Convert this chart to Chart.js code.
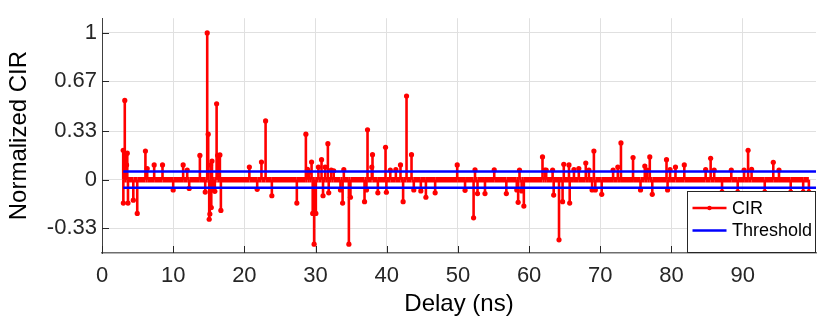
<!DOCTYPE html>
<html>
<head>
<meta charset="utf-8">
<title>CIR</title>
<script src="https://cdn.jsdelivr.net/npm/chart.js@4.4.0/dist/chart.umd.min.js"></script>
<style>
  html, body { margin: 0; padding: 0; background: #fff; }
  #wrap { width: 830px; height: 323px; }
</style>
</head>
<body>
<div id="wrap"><canvas id="cirChart" width="830" height="323"></canvas></div>
<script>
// CIR spikes: delay (ns) and normalized amplitude
const cirDelay = [
  2.98, 3.0, 3.2, 3.45, 3.55, 3.65, 4.4, 4.95, 6.1, 6.35, 7.33, 8.5, 10.0, 11.4, 11.97, 12.25,
  13.75, 14.5, 14.78, 14.92, 15.06, 15.15, 15.25, 15.35, 15.45, 15.6, 15.85, 16.1, 16.25, 16.56, 16.7,
  20.7, 21.8, 22.4, 22.98, 23.86, 27.37, 28.64, 28.87, 29.1, 29.44, 29.6, 29.8, 30.04, 30.4,
  30.84, 31.05, 31.35, 31.73, 31.85, 32.2, 32.55, 33.5, 33.8, 33.97, 34.68, 34.9,
  36.88, 37.15, 37.3, 37.9, 38.0, 38.75, 39.83, 39.95, 40.5, 41.28, 41.93, 42.3, 42.78, 43.48,
  43.8, 44.79, 45.5, 46.8, 49.9, 51.0, 52.2, 52.4, 52.75, 53.8, 55.1, 56.8, 58.27, 58.46, 58.65,
  58.95, 59.26, 61.88, 62.2, 62.4, 63.3, 63.45, 64.2, 64.7, 64.87, 65.6, 65.7, 66.3, 66.98,
  67.96, 68.4, 68.85, 69.1, 69.3, 70.2, 71.8, 72.46, 72.9, 74.6, 75.65, 76.25, 76.6, 76.95,
  77.3, 79.3, 79.45, 79.8, 80.56, 81.8, 84.8, 85.5, 86.0, 87.1, 88.4, 89.3, 90.2, 90.76,
  91.25, 93.1, 94.3, 95.1, 96.75, 98.5, 99.3
];
const cirValue = [
  0.20, -0.16, 0.54, 0.10, 0.18, -0.16, -0.14, -0.23, 0.195, 0.075, 0.10, 0.10, -0.07, 0.10, 0.065, -0.06,
  0.165, -0.085, 1.0, 0.31, -0.27, -0.235, 0.10, -0.19, 0.127, -0.07, -0.08, 0.517, 0.165, 0.168, -0.21,
  0.086, -0.066, 0.12, 0.40, -0.11, -0.16, 0.31, 0.07, 0.05, 0.12, -0.23, -0.44, -0.23, 0.086,
  0.136, -0.11, 0.086, 0.245, -0.09, 0.065, 0.06, -0.07, -0.16, 0.068, -0.44, -0.12,
  -0.15, -0.07, 0.34, 0.086, 0.17, -0.09, 0.22, -0.086, 0.065, 0.068, 0.10, -0.15, 0.57, 0.17,
  -0.07, -0.077, -0.12, -0.09, 0.10, -0.073, -0.26, 0.066, -0.095, -0.095, 0.066, -0.095, -0.07, -0.155, 0.065,
  -0.077, -0.18, 0.155, 0.065, 0.065, 0.065, -0.105, -0.41, -0.15, 0.104, 0.10, -0.16, 0.068, 0.075,
  0.113, 0.065, -0.07, 0.195, -0.07, -0.10, 0.065, 0.086, 0.25, 0.15, -0.07, 0.093, 0.065, 0.155,
  -0.10, 0.136, -0.07, 0.068, 0.086, 0.10, 0.068, 0.145, 0.065, -0.085, 0.065, -0.085, 0.065, 0.20,
  0.07, -0.085, 0.118, 0.065, -0.085, -0.085, -0.085
];

// detection threshold (+/-) over the delay window
const thresholdDelay = [2.98, 100.3];
const thresholdUpper = [0.055, 0.055];
const thresholdLower = [-0.055, -0.055];

const xTicks = [0, 10, 20, 30, 40, 50, 60, 70, 80, 90];
const yTicks = [-0.33, 0, 0.33, 0.67, 1];
const yTickLabels = ['-0.33', '0', '0.33', '0.67', '1'];

const FONT = '"Liberation Sans", Arial, Helvetica, sans-serif';
const TEXT = '#262626';

// each spike goes 0 -> value -> 0 so the stems share the zero baseline
const cirPoints = [];
cirDelay.forEach((d, i) => {
  cirPoints.push({ x: d, y: 0 }, { x: d, y: cirValue[i] }, { x: d, y: 0 });
});

const toXY = (xs, ys) => xs.map((x, i) => ({ x: x, y: ys[i] }));

// MATLAB-style inward tick marks
const innerTicks = {
  id: 'innerTicks',
  afterDatasetsDraw(chart) {
    const { ctx, chartArea, scales } = chart;
    ctx.save();
    ctx.strokeStyle = TEXT;
    ctx.lineWidth = 1;
    ctx.beginPath();
    xTicks.forEach(v => {
      const px = Math.round(scales.x.getPixelForValue(v)) + 0.5;
      ctx.moveTo(px, chartArea.bottom);
      ctx.lineTo(px, chartArea.bottom - 7);
    });
    yTicks.forEach(v => {
      const py = Math.round(scales.y.getPixelForValue(v)) + 0.5;
      ctx.moveTo(chartArea.left, py);
      ctx.lineTo(chartArea.left + 7, py);
    });
    ctx.stroke();
    ctx.restore();
  }
};

// boxed legend in the lower right corner of the axes
const legendBox = {
  id: 'legendBox',
  afterDraw(chart) {
    const { ctx, chartArea } = chart;
    const w = 129, h = 62;
    const x = chartArea.right - w, y = chartArea.bottom - h;
    ctx.save();
    ctx.fillStyle = '#fff';
    ctx.fillRect(x, y, w, h);
    ctx.strokeStyle = TEXT;
    ctx.lineWidth = 1;
    ctx.strokeRect(Math.round(x) + 0.5, Math.round(y) + 0.5, w - 1, h - 1);

    const items = chart.data.datasets.filter(ds => ds.label);
    items.forEach((ds, i) => {
      const cy = y + 17 + i * 22.5;
      ctx.strokeStyle = ds.borderColor;
      ctx.lineWidth = 2.5;
      ctx.beginPath();
      ctx.moveTo(x + 5.5, cy);
      ctx.lineTo(x + 39.5, cy);
      ctx.stroke();
      if (ds.legendMarker) {
        ctx.fillStyle = ds.borderColor;
        ctx.beginPath();
        ctx.arc(x + 22.5, cy, 2.2, 0, Math.PI * 2);
        ctx.fill();
      }
      ctx.fillStyle = '#000';
      ctx.font = '18px ' + FONT;
      ctx.textBaseline = 'middle';
      ctx.textAlign = 'left';
      ctx.fillText(ds.label, x + 45, cy + 1);
    });
    ctx.restore();
  }
};

document.addEventListener('DOMContentLoaded', () => {
  const ctx = document.getElementById('cirChart').getContext('2d');
  new Chart(ctx, {
    type: 'line',
    data: {
      datasets: [
        {
          label: 'CIR',
          legendMarker: true,
          data: cirPoints,
          borderColor: '#ff0000',
          backgroundColor: '#ff0000',
          borderWidth: 2.6,
          borderJoinStyle: 'round',
          pointRadius: c => (c.raw && c.raw.y !== 0 ? 2.6 : 0),
          pointBorderWidth: 0,
          pointHoverRadius: 0,
          segment: {
            borderWidth: c => (c.p0.parsed.y === 0 && c.p1.parsed.y === 0 ? 5.5 : 2.6)
          },
          tension: 0,
          order: 2
        },
        {
          label: 'Threshold',
          data: toXY(thresholdDelay, thresholdUpper),
          borderColor: '#0000ff',
          borderWidth: 2.5,
          pointRadius: 0,
          order: 1
        },
        {
          label: '',
          data: toXY(thresholdDelay, thresholdLower),
          borderColor: '#0000ff',
          borderWidth: 2.5,
          pointRadius: 0,
          order: 1
        }
      ]
    },
    options: {
      responsive: false,
      animation: false,
      devicePixelRatio: 1,
      layout: { padding: { left: 0, right: 14, top: 17.5, bottom: 0 } },
      plugins: {
        legend: { display: false },
        tooltip: { enabled: false }
      },
      events: [],
      scales: {
        x: {
          type: 'linear',
          min: 0,
          max: 100.3,
          afterBuildTicks: s => { s.ticks = xTicks.map(v => ({ value: v })); },
          afterFit: s => { s.height = 70; },
          grid: { color: '#e0e0e0', lineWidth: 1, drawTicks: false },
          border: { display: true, color: '#6e6e6e', width: 1.5 },
          ticks: {
            color: TEXT,
            font: { family: FONT, size: 22 },
            padding: 10,
            maxRotation: 0,
            callback: v => String(v)
          },
          title: {
            display: true,
            text: 'Delay (ns)',
            color: '#000',
            font: { family: FONT, size: 24 },
            padding: { top: 0, bottom: 4 }
          }
        },
        y: {
          min: -0.5,
          max: 1.1,
          afterBuildTicks: s => { s.ticks = yTicks.map(v => ({ value: v })); },
          afterFit: s => { s.width = 102; },
          grid: { color: '#e0e0e0', lineWidth: 1, drawTicks: false },
          border: { display: true, color: '#404040', width: 1 },
          ticks: {
            color: TEXT,
            font: { family: FONT, size: 22 },
            padding: 5,
            callback: (v, i) => yTickLabels[i]
          },
          title: {
            display: true,
            text: 'Normalized CIR',
            color: '#000',
            font: { family: FONT, size: 24 },
            padding: { top: 5, bottom: 0 }
          }
        }
      }
    },
    plugins: [innerTicks, legendBox]
  });
});
</script>
</body>
</html>
